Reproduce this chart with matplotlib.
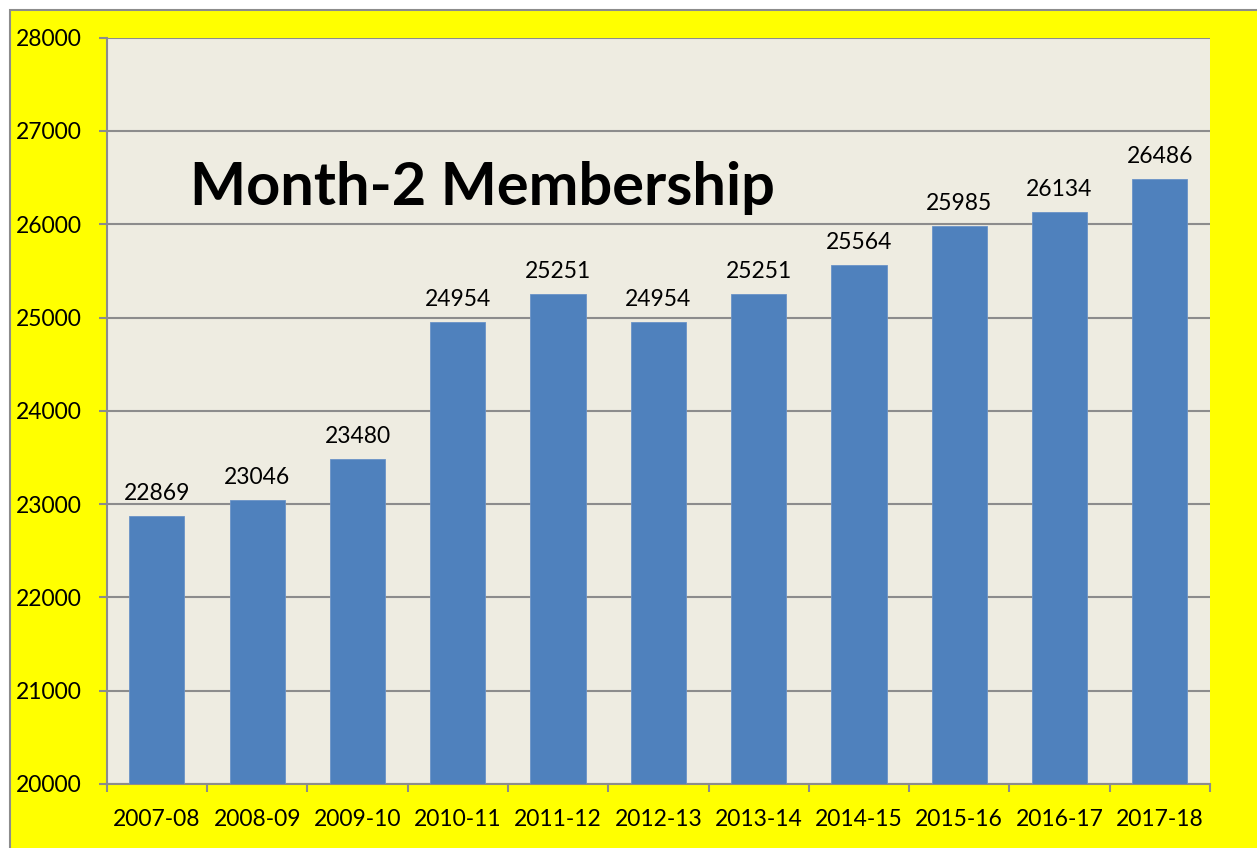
import matplotlib
matplotlib.use("Agg")
import matplotlib.pyplot as plt
import numpy as np

seasons = ["2007-08", "2008-09", "2009-10", "2010-11", "2011-12", "2012-13",
           "2013-14", "2014-15", "2015-16", "2016-17", "2017-18"]
members = [22869, 23046, 23480, 24954, 25251, 24954, 25251, 25564, 25985, 26134, 26486]
y_ticks = [20000, 21000, 22000, 23000, 24000, 25000, 26000, 27000, 28000]

plt.rcParams['font.family'] = ['Lato', 'DejaVu Sans']

fig = plt.figure(figsize=(12.57, 8.48), dpi=100, facecolor="white")
# yellow chart area with thin grey border
bg = plt.Rectangle((10 / 1257, -0.01), 1.01 - 10 / 1257, 1.01 - 10 / 848, transform=fig.transFigure,
                   facecolor="#FFFF00", edgecolor="#8C8C8C", linewidth=1.5, zorder=-5)
fig.patches.append(bg)

ax = fig.add_axes([106.7 / 1257, 1 - 784 / 848, (1210 - 106.7) / 1257, (784 - 37.7) / 848])
ax.set_facecolor("#EEECE1")

x = np.arange(len(seasons))
ax.bar(x, members, width=0.55, color="#4F81BD", edgecolor="#6A93C8", linewidth=0.6, zorder=3)
for xi, v in zip(x, members):
    ax.text(xi, v + 130, str(v), ha="center", va="bottom", fontsize=16.5, color="black", zorder=4)

ax.set_ylim(20000, 28000)
ax.set_xlim(-0.5, len(seasons) - 0.5)
ax.set_yticks(y_ticks)
ax.set_yticklabels([str(t) for t in y_ticks], fontsize=16.5)
ax.yaxis.grid(True, color="#8C8C8C", linewidth=1.5, zorder=1)
ax.set_axisbelow(True)

ax.set_xticks(x)
ax.set_xticklabels(seasons, fontsize=16.5)
ax.set_xticks(np.arange(-0.5, len(seasons)), minor=True)
ax.tick_params(axis="x", which="major", length=0, pad=18)
ax.tick_params(axis="x", which="minor", length=6, color="#8C8C8C", width=1.5)
ax.tick_params(axis="y", length=6, color="#8C8C8C", width=1.5, pad=12)

for side in ["top", "right"]:
    ax.spines[side].set_visible(False)
for side in ["left", "bottom"]:
    ax.spines[side].set_color("#8C8C8C")
    ax.spines[side].set_linewidth(1.5)

ax.text(190 / 1257, 1 - 205 / 848, "Month-2 Membership", transform=fig.transFigure,
        fontsize=42.8, fontweight="bold", color="black", ha="left", va="baseline", zorder=5)

fig.savefig("out.png", dpi=100, facecolor=fig.get_facecolor())
